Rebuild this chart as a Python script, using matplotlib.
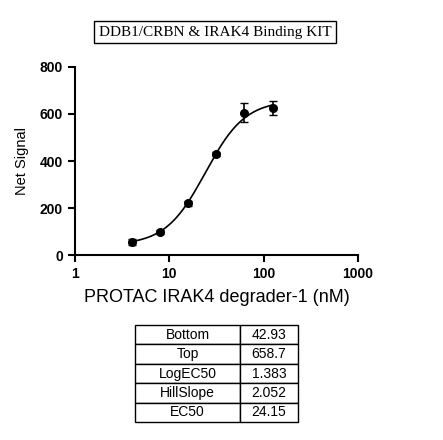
import numpy as np
import matplotlib
matplotlib.use("Agg")
import matplotlib.pyplot as plt
from matplotlib.ticker import NullLocator

conc = [4, 8, 16, 31.25, 62.5, 125]
signal = [55, 100, 220, 430, 605, 625]
err = [12, 8, 12, 8, 40, 30]
param_names = ["Bottom", "Top", "LogEC50", "HillSlope", "EC50"]
param_vals = ["42.93", "658.7", "1.383", "2.052", "24.15"]
bottom, top, logec50, hill = 42.93, 658.7, 1.383, 2.052

fig = plt.figure(figsize=(4.43, 4.40), dpi=100)
ax = fig.add_axes([0.169, 0.420, 0.639, 0.428])
xs = np.logspace(np.log10(4), np.log10(125), 200)
ys = bottom + (top - bottom) / (1 + 10 ** ((logec50 - np.log10(xs)) * hill))
ax.plot(xs, ys, color="black", lw=1.2)
ax.errorbar(conc, signal, yerr=err, fmt="o", color="black", ms=5.5, capsize=3, elinewidth=1.2)
ax.set_xscale("log")
ax.set_xlim(1, 1000)
ax.set_ylim(0, 800)
ax.set_yticks([0, 200, 400, 600, 800])
ax.set_xticks([1, 10, 100, 1000])
ax.set_xticklabels(["1", "10", "100", "1000"])
ax.xaxis.set_minor_locator(NullLocator())
for s in ["top", "right"]:
    ax.spines[s].set_visible(False)
for s in ["left", "bottom"]:
    ax.spines[s].set_linewidth(1.5)
ax.tick_params(width=1.5, length=5, labelsize=10)
for lab in ax.get_yticklabels() + ax.get_xticklabels():
    lab.set_fontfamily("Liberation Sans")
    lab.set_fontweight("bold")
ax.set_ylabel("Net Signal", fontfamily="Liberation Sans", fontsize=10.5, labelpad=8)
ax.set_xlabel("PROTAC IRAK4 degrader-1 (nM)", fontfamily="Liberation Sans", fontsize=13, labelpad=6)

fig.text(0.485, 0.927, "DDB1/CRBN & IRAK4 Binding KIT", ha="center", va="center",
         fontfamily="Liberation Serif", fontsize=11,
         bbox=dict(boxstyle="square,pad=0.3", fc="white", ec="black", lw=1))

tax = fig.add_axes([135/443, 1-422/440, (298-135)/443, (422-325)/440])
tax.axis("off")
tbl = tax.table(cellText=[[n, v] for n, v in zip(param_names, param_vals)],
                colWidths=[105/163, 58/163], bbox=[0, 0, 1, 1], cellLoc="center")
tbl.auto_set_font_size(False)
for (r, c), cell in tbl.get_celld().items():
    cell.set_linewidth(1.0)
    cell.get_text().set_fontsize(10)
    cell.get_text().set_fontfamily("Liberation Sans")
fig.savefig("out.png", dpi=100)
